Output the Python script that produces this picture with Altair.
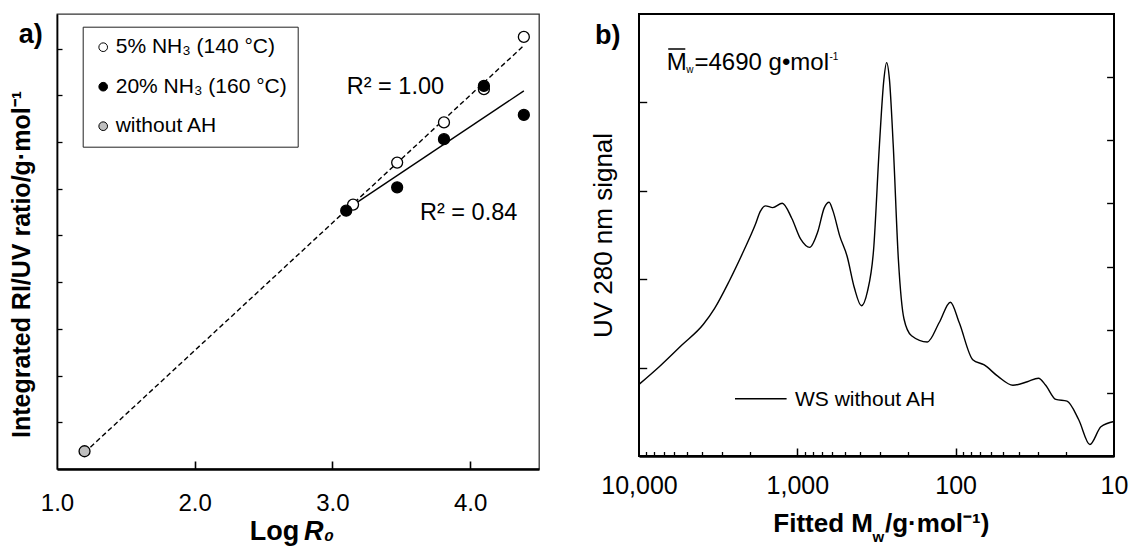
import altair as alt
import pandas as pd

FONT = "Liberation Sans"

# ---------------- Panel a data ----------------
series_keys = ["open", "filled", "gray"]
series_labels = ["5% NH₃ (140 °C)", "20% NH₃ (160 °C)", "without AH"]
series_fill = ["white", "black", "#bfbfbf"]

open_x = [3.15, 3.47, 3.81, 4.10, 4.39]
open_y = [5.66, 6.56, 7.42, 8.13, 9.25]
filled_x = [3.10, 3.47, 3.81, 4.10, 4.39]
filled_y = [5.53, 6.03, 7.06, 8.20, 7.58]
gray_x = [1.20]
gray_y = [0.38]

r2_text = ["R² = 1.00", "R² = 0.84"]
r2_x = [3.104, 3.636]
r2_y = [8.17, 5.49]

# ---------------- Panel b data ----------------
mw = [10000, 7450, 5400, 3920, 3330, 2690, 2170, 1850, 1710, 1590,
      1430, 1245, 1085, 950, 835, 745, 675, 630, 595, 540,
      485, 436, 394, 361, 330, 303, 284, 273, 262, 248,
      230, 212, 190, 151, 127, 108, 95, 78, 66, 54,
      43.5, 35.3, 30, 27, 23.3, 19.8, 16.7, 14.2, 12.1, 10]
uv = [0.81, 1.01, 1.25, 1.49, 1.67, 1.98, 2.33, 2.61, 2.77, 2.83,
      2.81, 2.86, 2.69, 2.45, 2.36, 2.53, 2.81, 2.87, 2.77, 2.49,
      2.26, 1.90, 1.70, 1.86, 2.33, 3.52, 4.26, 4.45, 4.26, 3.52,
      2.22, 1.55, 1.36, 1.29, 1.51, 1.74, 1.51, 1.09, 1.03, 0.90,
      0.80, 0.84, 0.88, 0.80, 0.64, 0.62, 0.41, 0.13, 0.33, 0.39]
xb_labels = [10000, 1000, 100, 10]
xb_major = [1000, 100]
xb_minor = [m * d for d in (1000, 100, 10) for m in range(2, 10)]

# ---------------- build tables ----------------
rows = []
for k, lab, xs_, ys_ in [("open", series_labels[0], open_x, open_y),
                         ("filled", series_labels[1], filled_x, filled_y),
                         ("gray", series_labels[2], gray_x, gray_y)]:
    for xv, yv in zip(xs_, ys_):
        rows.append({"key": k, "series": lab, "logR0": xv, "ratio": yv})
df_a = pd.DataFrame(rows)
df_r2 = pd.DataFrame({"t": r2_text, "logR0": r2_x, "ratio": r2_y})
df_b = pd.DataFrame({"idx": list(range(len(mw))), "Mw": mw, "uv": uv})

W_A, H_A = 482, 455
W_B, H_B = 475, 442

xs = alt.Scale(domain=[1, 4.5], nice=False, zero=False)
ys = alt.Scale(domain=[0, 9.74], nice=False, zero=False)

def one(t):
    return pd.DataFrame({"t": [t]})

dashed = alt.Chart(df_a).transform_filter(
    alt.datum.key != "filled"
).transform_regression("logR0", "ratio").mark_line(
    color="black", strokeWidth=1.4, strokeDash=[5, 3]
).encode(
    x=alt.X("logR0:Q", scale=xs, axis=alt.Axis(
        orient="top", offset=-H_A, values=[2, 3, 4], tickSize=8, tickWidth=1.6,
        tickColor="black", labels=False, domain=False, grid=False, title=None)),
    y=alt.Y("ratio:Q", scale=ys, axis=alt.Axis(
        orient="right", offset=-W_A, values=list(range(1, 10)), tickSize=5,
        tickWidth=1.3, tickColor="black", labels=False, domain=False, grid=False,
        title=None)),
)

solid = alt.Chart(df_a).transform_filter(
    alt.datum.key == "filled"
).transform_regression("logR0", "ratio").mark_line(
    color="black", strokeWidth=1.4
).encode(
    x=alt.X("logR0:Q", scale=xs, axis=None),
    y=alt.Y("ratio:Q", scale=ys, axis=None),
)

points = alt.Chart(df_a).mark_circle(
    size=120, stroke="black", strokeWidth=1.3, opacity=1
).encode(
    x=alt.X("logR0:Q", scale=xs, axis=alt.Axis(
        orient="bottom", values=[1, 2, 3, 4], format=".1f", labelFontSize=24,
        labelColor="black", ticks=False, labelPadding=41, labelBaseline="alphabetic",
        labelFlush=False, domainWidth=2.3, domainColor="black", grid=False, title=None)),
    y=alt.Y("ratio:Q", scale=ys, axis=alt.Axis(
        orient="left", title="Integrated RI/UV ratio/g·mol⁻¹", titleFontSize=25,
        titleFontWeight="bold", titleColor="black", titleX=-27.7, titleY=250,
        titleAngle=270, titleBaseline="alphabetic", titleAlign="center",
        labels=False, ticks=False, domainWidth=1.7, domainColor="black", grid=False)),
    fill=alt.Fill("series:N", scale=alt.Scale(domain=series_labels, range=series_fill),
                  legend=alt.Legend(
                      title=None, orient="none", legendX=25.7, legendY=12.7,
                      direction="vertical", symbolType="circle", symbolSize=75,
                      symbolStrokeColor="black", symbolStrokeWidth=1,
                      labelFontSize=21, labelColor="black", labelOffset=2,
                      rowPadding=17.5, padding=10, strokeColor="#222",
                      fillColor="white", labelLimit=400)),
)

r2 = alt.Chart(df_r2).mark_text(
    align="left", baseline="middle", fontSize=23.5, color="black"
).encode(x=alt.X("logR0:Q", scale=xs, axis=None),
         y=alt.Y("ratio:Q", scale=ys, axis=None), text="t:N")

a_lab = alt.Chart(one("a)")).mark_text(
    align="left", baseline="alphabetic", fontSize=27, fontWeight="bold", color="black"
).encode(x=alt.value(-38.3), y=alt.value(29.3), text="t:N")

log_lab = alt.Chart(one("Log")).mark_text(
    align="right", baseline="alphabetic", fontSize=27, fontWeight="bold", color="black"
).encode(x=alt.value(242.3), y=alt.value(526), text="t:N")

r0_lab = alt.Chart(one("R₀")).mark_text(
    align="left", baseline="alphabetic", fontSize=27, fontWeight="bold",
    fontStyle="italic", color="black"
).encode(x=alt.value(247), y=alt.value(526), text="t:N")

panel_a = alt.layer(dashed, solid, points, r2, a_lab, log_lab, r0_lab).resolve_axis(
    x="independent", y="independent"
).properties(width=W_A, height=H_A,
             view=alt.ViewBackground(stroke="#333", strokeWidth=1.3))

# ---------------- Panel b ----------------
xb = alt.Scale(type="log", domain=[10, 10000], reverse=True, nice=False)
yb = alt.Scale(domain=[0, 5], nice=False, zero=False)

curve = alt.Chart(df_b).mark_line(
    color="black", strokeWidth=1.4, interpolate="monotone"
).encode(
    x=alt.X("Mw:Q", scale=xb, axis=alt.Axis(
        orient="bottom", values=xb_labels, format=",", labelFontSize=25,
        labelColor="black", ticks=False, labelPadding=37.4, labelBaseline="alphabetic",
        labelFlush=False, labelOverlap=False, domainWidth=2.3, domainColor="black",
        grid=False, title=None)),
    y=alt.Y("uv:Q", scale=yb, axis=alt.Axis(
        orient="left", title="UV 280 nm signal", titleFontSize=26,
        titleFontWeight="normal", titleColor="black", titleX=-27.5, titleY=H_B / 2,
        titleAngle=270, titleBaseline="alphabetic", titleAlign="center",
        labels=False, ticks=False, domain=False, grid=False)),
    order="idx:Q",
)

ticks1 = alt.Chart(df_b).mark_line(opacity=0).encode(
    x=alt.X("Mw:Q", scale=xb, axis=alt.Axis(
        orient="top", offset=-H_B, values=xb_major, tickSize=8, tickWidth=1.5,
        tickColor="black", labels=False, domain=False, grid=False, title=None)),
    y=alt.Y("uv:Q", scale=yb, axis=alt.Axis(
        orient="right", offset=-W_B, values=[1, 2, 3, 4], tickSize=7.7, tickWidth=1.4,
        tickColor="black", labels=False, domain=False, grid=False, title=None)),
    order="idx:Q",
)

ticks2 = alt.Chart(df_b).mark_line(opacity=0).encode(
    x=alt.X("Mw:Q", scale=xb, axis=alt.Axis(
        orient="top", offset=-H_B, values=xb_minor, tickSize=4.5, tickWidth=1.3,
        tickColor="black", labels=False, domain=False, grid=False, title=None)),
    y=alt.Y("uv:Q", scale=yb, axis=alt.Axis(
        orient="left", offset=-W_B, values=[5 * k / 7 for k in range(1, 7)],
        tickSize=7.4, tickWidth=1.4, tickColor="black", labels=False, domain=False,
        grid=False, title=None)),
    order="idx:Q",
)

b_lab = alt.Chart(one("b)")).mark_text(
    align="left", baseline="alphabetic", fontSize=27, fontWeight="bold", color="black"
).encode(x=alt.value(-44.1), y=alt.value(30), text="t:N")

m_lab = alt.Chart(one("M")).mark_text(
    align="left", baseline="alphabetic", fontSize=24, color="black"
).encode(x=alt.value(27.8), y=alt.value(56.3), text="t:N")
m_bar = alt.Chart(one("bar")).mark_rule(color="black", strokeWidth=1.5).encode(
    x=alt.value(29.2), x2=alt.value(46.3), y=alt.value(35))
w_sub = alt.Chart(one("w")).mark_text(
    align="left", baseline="alphabetic", fontSize=10, color="black"
).encode(x=alt.value(47.3), y=alt.value(58.5), text="t:N")
m_rest = alt.Chart(one("=4690 g•mol")).mark_text(
    align="left", baseline="alphabetic", fontSize=24, color="black"
).encode(x=alt.value(55.5), y=alt.value(56.3), text="t:N")
m_sup = alt.Chart(one("-1")).mark_text(
    align="left", baseline="alphabetic", fontSize=10, color="black"
).encode(x=alt.value(190.5), y=alt.value(46), text="t:N")

ws_line = alt.Chart(one("ws")).mark_rule(color="black", strokeWidth=1.4).encode(
    x=alt.value(96), x2=alt.value(147.6), y=alt.value(384.7))
ws_text = alt.Chart(one("WS without AH")).mark_text(
    align="left", baseline="middle", fontSize=21, color="black"
).encode(x=alt.value(156), y=alt.value(385.5), text="t:N")

fx1 = alt.Chart(one("Fitted M")).mark_text(
    align="right", baseline="alphabetic", fontSize=26, fontWeight="bold", color="black"
).encode(x=alt.value(234), y=alt.value(518.3), text="t:N")
fx2 = alt.Chart(one("w")).mark_text(
    align="left", baseline="alphabetic", fontSize=15, fontWeight="bold", color="black"
).encode(x=alt.value(233.5), y=alt.value(528), text="t:N")
fx3 = alt.Chart(one("/g·mol⁻¹)")).mark_text(
    align="left", baseline="alphabetic", fontSize=26, fontWeight="bold", color="black"
).encode(x=alt.value(246), y=alt.value(518.3), text="t:N")

panel_b = alt.layer(curve, ticks1, ticks2, b_lab, m_lab, m_bar, w_sub, m_rest, m_sup,
                    ws_line, ws_text, fx1, fx2, fx3).resolve_axis(
    x="independent", y="independent"
).properties(width=W_B, height=H_B,
             view=alt.ViewBackground(stroke="black", strokeWidth=2))

chart = alt.hconcat(panel_a, panel_b, spacing=100, bounds="flush").properties(
    padding={"left": 0, "top": 5, "right": 0, "bottom": 0}
).configure(font=FONT).configure_axis(labelFont=FONT, titleFont=FONT)

chart.save("out.html", embed_options={"renderer": "svg", "actions": False})
